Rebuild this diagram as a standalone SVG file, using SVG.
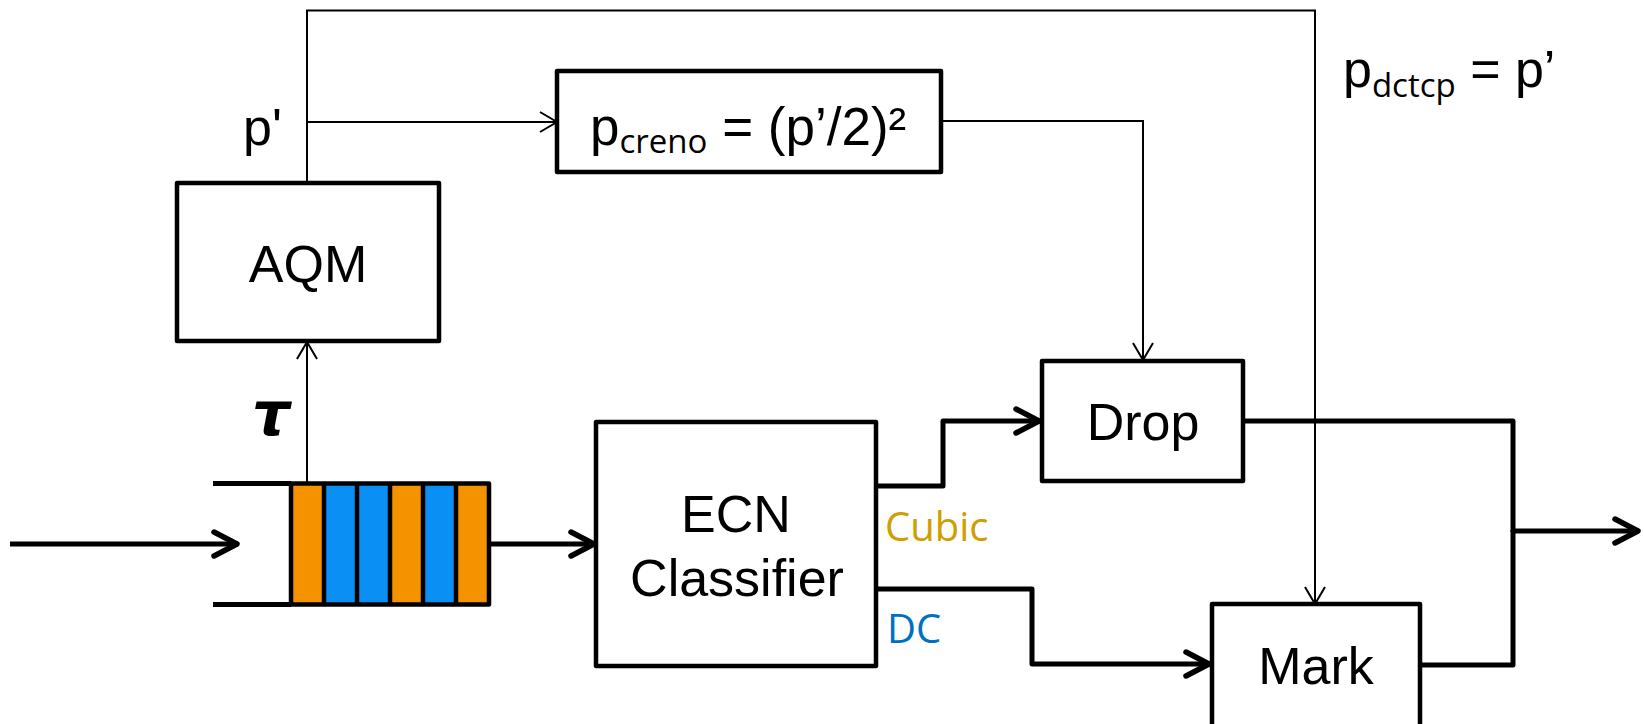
<svg xmlns="http://www.w3.org/2000/svg" width="1644" height="724" viewBox="0 0 1644 724">
<style>
.box{fill:#fff;stroke:#000;stroke-width:4.5;stroke-linejoin:round}
.thin{fill:none;stroke:#000;stroke-width:2}
.thick{fill:none;stroke:#000;stroke-width:5;stroke-linejoin:round}
.lbl{font-family:"Liberation Sans",Arial,sans-serif;font-size:52px;fill:#000}
.sub{font-family:"Open Sans",sans-serif;font-size:33px}
.cls{font-family:"Open Sans",sans-serif;font-size:40px}
.or{fill:#F59200}
.bl{fill:#0A8FF5}
</style>
<defs>
<marker id="thinArrow" markerUnits="userSpaceOnUse" viewBox="-22 -13 26 26" markerWidth="26" markerHeight="26" refX="0" refY="0" orient="auto">
<path d="M-17,-10 L0,0 L-17,10" fill="none" stroke="#000" stroke-width="2"/>
</marker>
<marker id="thickArrow" markerUnits="userSpaceOnUse" viewBox="-30 -16 34 32" markerWidth="34" markerHeight="32" refX="0" refY="0" orient="auto">
<path d="M-24,-12 L-1,0 L-24,12" fill="none" stroke="#000" stroke-width="5.5" stroke-linecap="round" stroke-linejoin="round"/>
</marker>
</defs>

<g id="connectors">
<polyline class="thin" points="307,183 307,10.5 1315,10.5 1315,604" marker-end="url(#thinArrow)"/>
<line class="thin" x1="307" y1="122" x2="557" y2="122" marker-end="url(#thinArrow)"/>
<polyline class="thin" points="941,121 1143,121 1143,360" marker-end="url(#thinArrow)"/>
<line class="thin" x1="307" y1="484" x2="307" y2="342" marker-end="url(#thinArrow)"/>
<line class="thick" x1="10" y1="544" x2="238" y2="544" marker-end="url(#thickArrow)"/>
<line class="thick" x1="489" y1="544" x2="595" y2="544" marker-end="url(#thickArrow)"/>
<polyline class="thick" points="876,486 943,486 943,421 1040,421" marker-end="url(#thickArrow)"/>
<polyline class="thick" points="876,589 1032,589 1032,664 1210,664" marker-end="url(#thickArrow)"/>
<polyline class="thick" points="1243,421 1513,421 1513,532"/>
<polyline class="thick" points="1420,665 1513,665 1513,530"/>
<line class="thick" x1="1513" y1="531" x2="1639" y2="531" marker-end="url(#thickArrow)"/>
</g>

<g id="labels">
<text class="lbl" x="243" y="145">p'</text>
<text class="lbl" x="1343" y="87">p<tspan class="sub" dy="10">dctcp</tspan><tspan dy="-10"> = p’</tspan></text>
<text x="252" y="435" font-family="DejaVu Sans,sans-serif" font-size="60" font-weight="bold" font-style="italic">τ</text>
<text class="cls" x="885" y="541" fill="#D09E00">Cubic</text>
<text class="cls" x="887" y="643" fill="#0070C0">DC</text>
</g>

<g id="queue">
<line class="thick" x1="213" y1="483.5" x2="291" y2="483.5"/>
<line class="thick" x1="213" y1="604.5" x2="291" y2="604.5"/>
<rect class="or" x="291" y="483.5" width="33" height="121"/>
<rect class="bl" x="324" y="483.5" width="33" height="121"/>
<rect class="bl" x="357" y="483.5" width="33" height="121"/>
<rect class="or" x="390" y="483.5" width="33" height="121"/>
<rect class="bl" x="423" y="483.5" width="33" height="121"/>
<rect class="or" x="456" y="483.5" width="33" height="121"/>
<g stroke="#000" stroke-width="4.5">
<line x1="324" y1="483.5" x2="324" y2="604.5"/>
<line x1="357" y1="483.5" x2="357" y2="604.5"/>
<line x1="390" y1="483.5" x2="390" y2="604.5"/>
<line x1="423" y1="483.5" x2="423" y2="604.5"/>
<line x1="456" y1="483.5" x2="456" y2="604.5"/>
</g>
<rect x="291" y="483.5" width="198" height="121" fill="none" stroke="#000" stroke-width="4.5" stroke-linejoin="round"/>
</g>

<g id="aqm">
<rect class="box" x="177" y="183" width="262" height="158"/>
<text class="lbl" x="308" y="282" text-anchor="middle">AQM</text>
</g>

<g id="creno">
<rect class="box" x="557" y="71" width="384" height="101"/>
<text class="lbl" x="590" y="145" style="font-size:53px">p<tspan class="sub" dy="8">creno</tspan><tspan dy="-8"> = (p’/2)²</tspan></text>
</g>

<g id="classifier">
<rect class="box" x="596" y="422" width="280" height="244"/>
<text class="lbl" x="736" y="532" text-anchor="middle">ECN</text>
<text class="lbl" x="737" y="596" text-anchor="middle">Classifier</text>
</g>

<g id="drop">
<rect class="box" x="1042" y="361" width="201" height="120"/>
<text class="lbl" x="1143" y="440" text-anchor="middle">Drop</text>
</g>

<g id="mark">
<rect class="box" x="1212" y="604" width="208" height="130"/>
<text class="lbl" x="1316" y="684" text-anchor="middle">Mark</text>
</g>
</svg>
